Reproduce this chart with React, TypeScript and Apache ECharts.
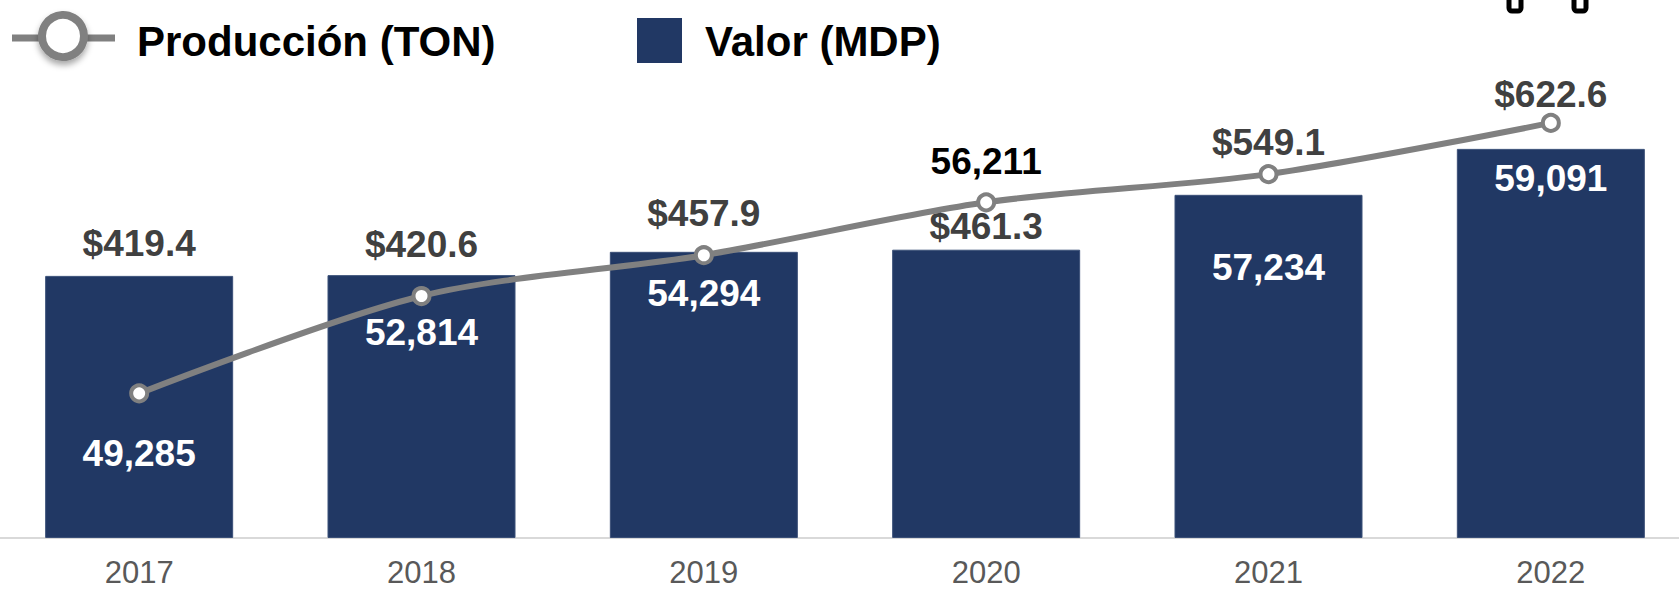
import React, { useEffect, useRef } from "react";
import * as echarts from "echarts";

const categories = ["2017", "2018", "2019", "2020", "2021", "2022"];
const valorMDP = [419.4, 420.6, 457.9, 461.3, 549.1, 622.6];
const produccionTON = [49285, 52814, 54294, 56211, 57234, 59091];
const legendLine = "Producción (TON)";
const legendBar = "Valor (MDP)";

// label placement (styling only)
const barLabelDistance = [14, 13, 20, 5, 34, 36];
const lineLabelPos = ["bottom", "bottom", "bottom", "top", "bottom", "bottom"];
const lineLabelDistance = [32, 8, 10, 13, 65, 28];
const lineLabelColor = ["#ffffff", "#ffffff", "#ffffff", "#000000", "#ffffff", "#ffffff"];

const FONT = "'Liberation Sans', Arial, sans-serif";
const BAR_COLOR = "#213864";
const LINE_COLOR = "#808080";

export default function App() {
  const ref = useRef<HTMLDivElement>(null);
  useEffect(() => {
    document.body.style.margin = "0";
    const chart = echarts.init(ref.current!, null, { renderer: "svg" });
    const fmt = (v: number) => v.toLocaleString("en-US");
    chart.setOption({
      animation: false,
      backgroundColor: "#ffffff",
      grid: { left: -2, top: 38, width: 1694, height: 500, outerBoundsMode: "none" },
      xAxis: {
        type: "category",
        data: categories,
        axisLine: { show: true, lineStyle: { color: "#d9d9d9", width: 2 } },
        axisTick: { show: false },
        axisLabel: { color: "#595959", fontFamily: FONT, fontSize: 31, lineHeight: 24, margin: 22 },
      },
      yAxis: [
        { type: "value", min: 0, max: 800, show: false, splitLine: { show: false } },
        { type: "value", min: 44040, max: 62170, show: false, splitLine: { show: false } },
      ],
      series: [
        {
          name: legendBar,
          type: "bar",
          yAxisIndex: 0,
          barWidth: 188,
          itemStyle: { color: BAR_COLOR, borderColor: "#3b5078", borderWidth: 1 },
          data: valorMDP.map((v, i) => ({
            value: v,
            label: {
              show: true,
              position: "top",
              distance: barLabelDistance[i],
              formatter: "$" + v.toFixed(1),
              color: "#404040",
              fontFamily: FONT,
              fontWeight: "bold",
              fontSize: 37,
              lineHeight: 36,
            },
          })),
          z: 1,
        },
        {
          name: legendLine,
          type: "line",
          yAxisIndex: 1,
          smooth: 0.3,
          symbol: "circle",
          symbolSize: 16,
          lineStyle: { color: LINE_COLOR, width: 6 },
          itemStyle: { color: "#ffffff", borderColor: LINE_COLOR, borderWidth: 4 },
          data: produccionTON.map((v, i) => ({
            value: v,
            label: {
              show: true,
              position: lineLabelPos[i],
              distance: lineLabelDistance[i],
              formatter: fmt(v),
              color: lineLabelColor[i],
              fontFamily: FONT,
              fontWeight: "bold",
              fontSize: 37,
              lineHeight: 36,
            },
          })),
          z: 3,
        },
      ],
      graphic: [
        { type: "line", shape: { x1: 12, y1: 38, x2: 115, y2: 38 }, style: { stroke: LINE_COLOR, lineWidth: 7 } },
        {
          type: "circle",
          shape: { cx: 63, cy: 36, r: 21 },
          style: {
            fill: "#ffffff",
            stroke: LINE_COLOR,
            lineWidth: 8,
            shadowBlur: 6,
            shadowOffsetY: 4,
            shadowColor: "rgba(0,0,0,0.35)",
          },
        },
        {
          type: "text",
          x: 137,
          y: 41,
          style: { text: legendLine, font: `bold 42px ${FONT}`, fill: "#000000", verticalAlign: "middle" },
        },
        { type: "rect", shape: { x: 637, y: 18, width: 45, height: 45 }, style: { fill: BAR_COLOR } },
        {
          type: "text",
          x: 705,
          y: 41,
          style: { text: legendBar, font: `bold 42px ${FONT}`, fill: "#000000", verticalAlign: "middle" },
        },
        { type: "rect", shape: { x: 1509, y: -20, width: 12, height: 31, r: 3 }, style: { fill: "none", stroke: "#000", lineWidth: 5 } },
        { type: "rect", shape: { x: 1574, y: -20, width: 12, height: 31, r: 3 }, style: { fill: "none", stroke: "#000", lineWidth: 5 } },
      ],
    });
    return () => chart.dispose();
  }, []);
  return <div ref={ref} style={{ width: 1679, height: 590 }} />;
}
